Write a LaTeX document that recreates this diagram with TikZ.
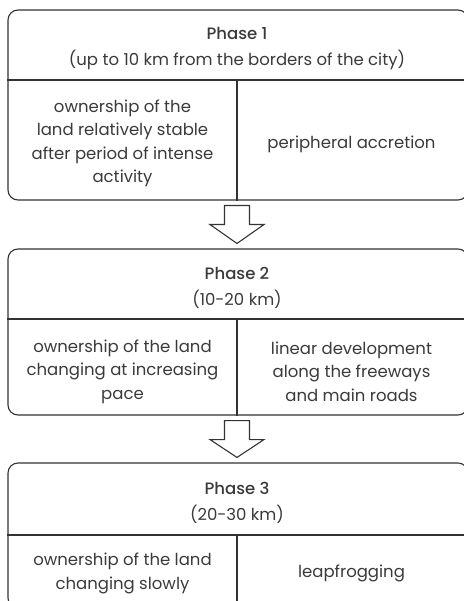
\documentclass[tikz,border=0pt]{standalone}
\usepackage{fontspec}
\setmainfont{Poppins}
\newfontfamily\headfont{Poppins Medium}
\usetikzlibrary{positioning,calc}
\definecolor{ink}{HTML}{333333}
\definecolor{txt}{HTML}{3A3A3A}
\tikzset{
  phasebox/.style={draw=ink, line width=1.1pt, rounded corners=10pt, minimum width=460pt, inner sep=0pt},
  rule/.style={draw=ink, line width=1.1pt},
  head/.style={align=center, text=txt, font=\fontsize{16.5}{26}\selectfont},
  cell/.style={align=center, text=txt, font=\fontsize{16.5}{23.5}\selectfont},
  blockarrow/.style={draw=ink, line width=1.1pt, fill=white, line join=miter},
}
\begin{document}
\begin{tikzpicture}[x=1pt,y=-1pt]
\useasboundingbox (0,0) rectangle (463,601);
% the three phases
\node[phasebox, minimum height=190pt] (p1) at (238,105) {};
\node[phasebox, minimum height=166pt] (p2) at (238,332) {};
\node[phasebox, minimum height=145pt] (p3) at (238,535.5) {};
% dividers
\coordinate (d1) at (237,80);
\coordinate (d2) at (237,319);
\coordinate (d3) at (237,535);
\draw[rule] (d1 -| p1.west) -- (d1 -| p1.east);
\draw[rule] (d1) -- (d1 |- p1.south);
\draw[rule] (d2 -| p2.west) -- (d2 -| p2.east);
\draw[rule] (d2) -- (d2 |- p2.south);
\draw[rule] (d3 -| p3.west) -- (d3 -| p3.east);
\draw[rule] (d3) -- (d3 |- p3.south);
% headers
\node[head] (h1) at (237,49) {{\headfont Phase 1}\\(up to 10 km from the borders of the city)};
\node[head] (h2) at (237,287.5) {{\headfont Phase 2}\\(10-20 km)};
\node[head] (h3) at (237,502.5) {{\headfont Phase 3}\\(20-30 km)};
% cells
\node[cell] (c1l) at (122.5,143.5) {ownership of the\\land relatively stable\\after period of intense\\activity};
\node[cell] (c1r) at (351.5,144) {peripheral accretion};
\node[cell] (c2l) at (122.5,371.5) {ownership of the land\\changing at increasing\\pace};
\node[cell] (c2r) at (351.5,371.5) {linear development\\along the freeways\\and main roads};
\node[cell] (c3l) at (122.5,573.5) {ownership of the land\\changing slowly};
\node[cell] (c3r) at (351.5,573) {leapfrogging};
% arrows between phases
\foreach \a/\b/\d in {p1/p2/d1,p2/p3/d2}
  \draw[blockarrow] ($(\d |- \a.south)+(-12.5,5)$) -- ++(0,19) -- ++(-14.5,0)
    -- ($(\d |- \b.north)+(0,-5)$) -- ($(\d |- \a.south)+(27,24)$) -- ++(-14.5,0)
    -- ($(\d |- \a.south)+(12.5,5)$) -- cycle;
\end{tikzpicture}
\end{document}
